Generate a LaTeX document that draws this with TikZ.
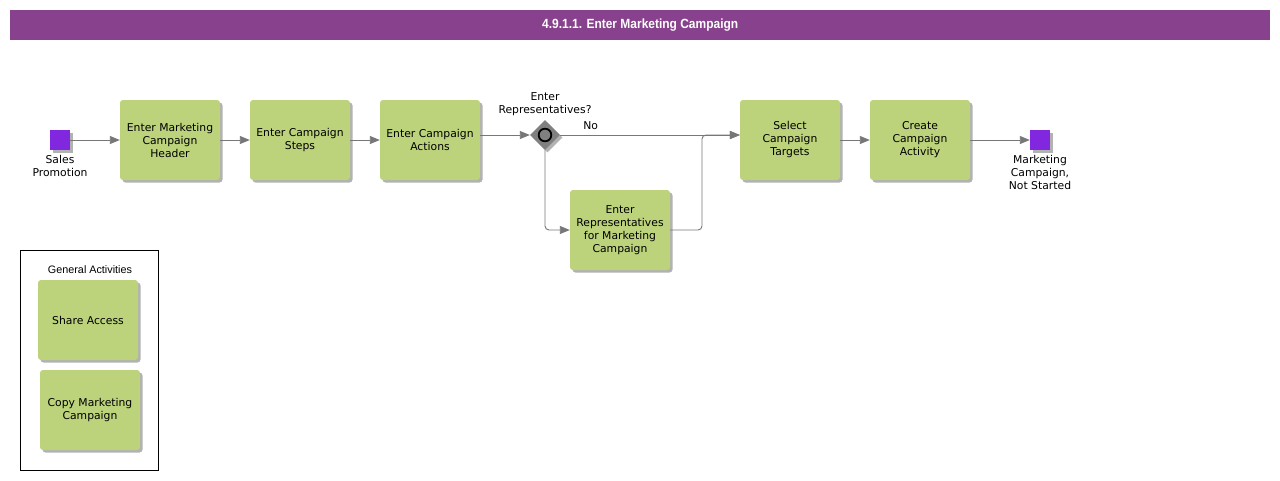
\documentclass[tikz,border=0pt]{standalone}
\usepackage{fontspec}
\setmainfont{DejaVu Sans}
\newfontfamily\titlefont[FakeStretch=0.9]{Liberation Sans}
\newfontfamily\arialfont{Liberation Sans}
\usetikzlibrary{shapes.geometric,shadows,arrows.meta}
\definecolor{titlebg}{HTML}{88418C}
\definecolor{taskgreen}{HTML}{BCD37C}
\definecolor{evpurple}{HTML}{8127E0}
\definecolor{linegray}{HTML}{777777}
\definecolor{gwgray}{HTML}{808080}
\tikzset{
  x=1pt, y=-1pt,
  shad/.style={drop shadow={shadow xshift=2.5pt, shadow yshift=-2.5pt, fill=black, opacity=0.3}},
  task/.style={rectangle, rounded corners=3pt, fill=taskgreen, minimum width=100pt, minimum height=80pt,
    align=center, inner sep=1pt, font=\fontsize{10.8}{13}\selectfont, shad},
  event/.style={rectangle, fill=evpurple, minimum width=20pt, minimum height=20pt, inner sep=0pt, shad},
  lbl/.style={align=center, font=\fontsize{10.8}{13}\selectfont, inner sep=0pt},
  gateway/.style={diamond, fill=gwgray, minimum width=30pt, minimum height=30pt, inner sep=0pt, shad},
  flow/.style={draw=linegray, line width=0.9pt, -{Triangle[length=10pt,width=8pt,fill=linegray]}, rounded corners=4pt},
}
\begin{document}
\begin{tikzpicture}
\useasboundingbox (0,0) rectangle (1280,480);
\fill[white] (0,0) rectangle (1280,480);
% title bar
\node[fill=titlebg, minimum width=1260pt, minimum height=30pt, inner sep=0pt, anchor=north west,
  text=white, font=\titlefont\bfseries\fontsize{13.3}{15}\selectfont] (title) at (10,10) {4.9.1.1. Enter Marketing Campaign};
% events
\node[event] (start) at (60,140) {};
\node[lbl, anchor=north] (startlbl) at (60,155) {Sales\\Promotion};
\node[task] (t1) at (170,140) {Enter Marketing\\Campaign\\Header};
\node[task] (t2) at (300,140) {Enter Campaign\\Steps};
\node[task] (t3) at (430,140) {Enter Campaign\\Actions};
\node[gateway] (gw) at (545,135) {};
\draw[black, line width=1.8pt, fill=gwgray] (gw.center) circle (6.3pt);
\node[lbl, anchor=south] (gwlbl) at (545,116) {Enter\\Representatives?};
\node[task] (rep) at (620,230) {Enter\\Representatives\\for Marketing\\Campaign};
\node[task] (sel) at (790,140) {Select\\Campaign\\Targets};
\node[task] (cre) at (920,140) {Create\\Campaign\\Activity};
\node[event] (end) at (1040,140) {};
\node[lbl, anchor=north] (endlbl) at (1040,155) {Marketing\\Campaign,\\Not Started};
% connectors
\draw[flow] (start) -- (t1);
\draw[flow] (t1) -- (t2);
\draw[flow] (t2) -- (t3);
\draw[flow] (t3.east |- gw) -- (gw.west);
\draw[flow] (gw.east) -- node[lbl, pos=0.17, above=5pt] (nolbl) {No} (sel.west |- gw);
\draw[flow] (gw.south) |- (rep.west);
\coordinate (j) at (702,135);
\draw[flow] (rep.east) -| (j) -- (sel.west |- gw);
\draw[flow] (sel) -- (cre);
\draw[flow] (cre) -- (end);
% general activities
\node[draw=black, line width=0.8pt, minimum width=138pt, minimum height=220pt, anchor=north west, inner sep=0pt] (ga) at (20,250) {};
\node[font=\arialfont\fontsize{10.8}{12}\selectfont, inner sep=0pt] (galbl) at (90,270) {General Activities};
\node[task] (share) at (88,320) {Share Access};
\node[task] (copy) at (90,410) {Copy Marketing\\Campaign};
\end{tikzpicture}
\end{document}
